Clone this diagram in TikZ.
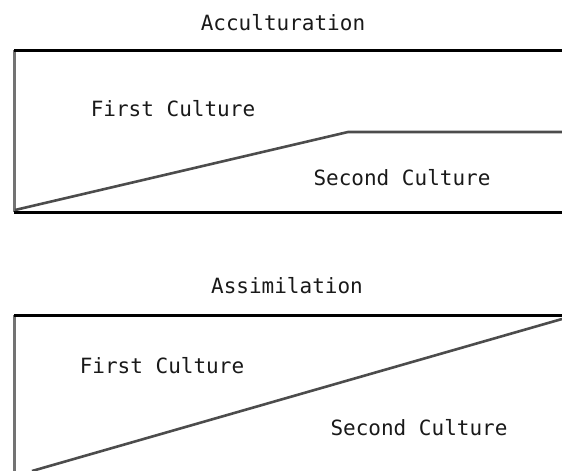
\documentclass[tikz,border=0pt]{standalone}
\usepackage{fontspec}
\setmonofont{DejaVu Sans Mono}
\begin{document}
\begin{tikzpicture}[x=1pt,y=-1pt,
  lbl/.style={inner sep=0pt,font=\ttfamily\fontsize{21}{21}\selectfont,text=black!90},
  edge/.style={line width=3pt,black},
  side/.style={line width=3pt,black!55},
  slope/.style={line width=2.6pt,black!70}]
\useasboundingbox (0,0) rectangle (562,471);
% ---- Acculturation ----
\node[lbl] (t1) at (283,23) {Acculturation};
\coordinate (a-tl) at (14,50);
\coordinate (a-tr) at (562,50);
\coordinate (a-bl) at (14,212);
\coordinate (a-br) at (562,212);
\coordinate (a-s0) at (15,210);
\coordinate (a-s1) at (348,132);
\coordinate (a-s2) at (562,132);
\draw[side] (a-tl) -- (a-bl);
\draw[edge] (a-tl) -- (a-tr);
\draw[edge] (a-bl) -- (a-br);
\draw[slope] (a-s0) -- (a-s1) -- (a-s2);
\node[lbl] (a1) at (173,109) {First Culture};
\node[lbl] (a2) at (402,178) {Second Culture};
% ---- Assimilation ----
\node[lbl] (t2) at (287,286) {Assimilation};
\coordinate (b-tl) at (14,315);
\coordinate (b-tr) at (562,315);
\coordinate (b-bl) at (14,471);
\coordinate (b-s0) at (32,471);
\coordinate (b-s1) at (562,319);
\draw[side] (b-tl) -- (b-bl);
\draw[edge] (b-tl) -- (b-tr);
\draw[slope] (b-s0) -- (b-s1);
\node[lbl] (b1) at (162,366) {First Culture};
\node[lbl] (b2) at (419,428) {Second Culture};
\end{tikzpicture}
\end{document}
